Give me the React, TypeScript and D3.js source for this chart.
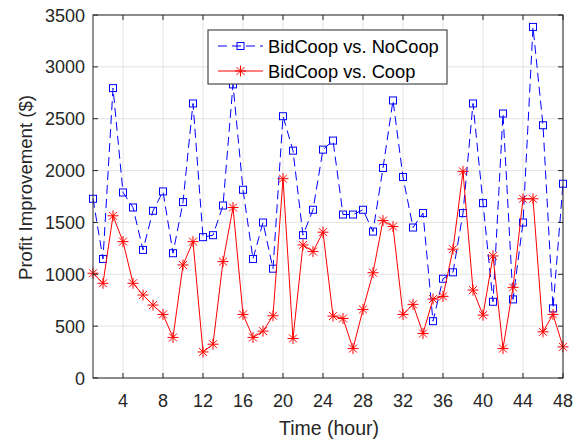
import React from "react";
import * as d3 from "d3";

// hourly profit improvement ($)
const hours = d3.range(1, 49);
const vsNoCoop = [
  1728, 1148, 2795, 1789, 1644, 1235, 1612, 1799, 1203, 1696, 2647, 1358,
  1377, 1663, 2831, 1815, 1148, 1499, 1054, 2524, 2192, 1377, 1622, 2202,
  2289, 1576, 1576, 1622, 1412, 2025, 2676, 1938, 1451, 1590, 548, 957,
  1019, 1590, 2647, 1686, 735, 2550, 758, 1499, 3385, 2437, 671, 1873,
];
const vsCoop = [
  1010, 913, 1564, 1315, 913, 800, 703, 613, 391, 1090, 1315, 251,
  326, 1122, 1644, 613, 391, 452, 600, 1922, 381, 1283, 1219, 1406,
  597, 574, 284, 661, 1015, 1518, 1460, 613, 710, 429, 761, 787,
  1242, 1992, 848, 606, 1177, 284, 874, 1728, 1728, 445, 613, 300,
];
const xTicks = d3.range(4, 49, 4);
const yTicks = d3.range(0, 3501, 500);
const seriesNames = ["BidCoop vs. NoCoop", "BidCoop vs. Coop"];

const W = 573;
const H = 439;
const margin = { top: 15, right: 10, bottom: 61, left: 93 };
const font = "'Liberation Sans', Arial, Helvetica, sans-serif";
const axisColor = "#262626";

const Star = ({ x, y }: { x: number; y: number }) => {
  const r = 5.5;
  const d = r * 0.72;
  return (
    <path
      d={`M${x - r},${y}H${x + r}M${x},${y - r}V${y + r}M${x - d},${y - d}L${x + d},${y + d}M${x - d},${y + d}L${x + d},${y - d}`}
      stroke="#ff0000"
      strokeWidth={1}
      fill="none"
    />
  );
};

const Square = ({ x, y }: { x: number; y: number }) => (
  <rect x={x - 3.5} y={y - 3.5} width={7} height={7} fill="none" stroke="#0000ff" strokeWidth={1} />
);

export default function App() {
  const iw = W - margin.left - margin.right;
  const ih = H - margin.top - margin.bottom;

  const x = d3.scaleLinear().domain([1, 48]).range([0, iw]);
  const y = d3.scaleLinear().domain([0, 3500]).range([ih, 0]);

  const line = d3
    .line<number>()
    .x((_, i) => x(hours[i]))
    .y((d) => y(d));

  const tick = 5;

  return (
    <div style={{ position: "absolute", left: 0, top: 0 }}>
      <svg width={W} height={H} style={{ display: "block", background: "#fff" }}>
        <g transform={`translate(${margin.left},${margin.top})`}>
          {/* grid */}
          {xTicks.map((t) => (
            <line key={"gx" + t} x1={x(t)} x2={x(t)} y1={0} y2={ih} stroke="#e3e3e3" />
          ))}
          {yTicks.map((t) => (
            <line key={"gy" + t} x1={0} x2={iw} y1={y(t)} y2={y(t)} stroke="#e3e3e3" />
          ))}

          {/* series */}
          <path
            d={line(vsNoCoop)!}
            fill="none"
            stroke="#0000ff"
            strokeWidth={1}
            strokeDasharray="9,5"
          />
          {vsNoCoop.map((v, i) => (
            <Square key={"b" + i} x={x(hours[i])} y={y(v)} />
          ))}
          <path d={line(vsCoop)!} fill="none" stroke="#ff0000" strokeWidth={1} />
          {vsCoop.map((v, i) => (
            <Star key={"r" + i} x={x(hours[i])} y={y(v)} />
          ))}

          {/* box and ticks */}
          <rect x={0} y={0} width={iw} height={ih} fill="none" stroke={axisColor} strokeWidth={1} />
          {xTicks.map((t) => (
            <g key={"tx" + t}>
              <line x1={x(t)} x2={x(t)} y1={ih} y2={ih - tick} stroke={axisColor} />
              <line x1={x(t)} x2={x(t)} y1={0} y2={tick} stroke={axisColor} />
              <text
                x={x(t)}
                y={ih + 29}
                textAnchor="middle"
                fontFamily={font}
                fontSize={18}
                fill={axisColor}
              >
                {t}
              </text>
            </g>
          ))}
          {yTicks.map((t) => (
            <g key={"ty" + t}>
              <line x1={0} x2={tick} y1={y(t)} y2={y(t)} stroke={axisColor} />
              <line x1={iw} x2={iw - tick} y1={y(t)} y2={y(t)} stroke={axisColor} />
              <text
                x={-8}
                y={y(t) + 6.5}
                textAnchor="end"
                fontFamily={font}
                fontSize={18}
                fill={axisColor}
              >
                {t}
              </text>
            </g>
          ))}

          {/* axis labels */}
          <text
            x={iw / 2 + 1}
            y={ih + 57}
            textAnchor="middle"
            fontFamily={font}
            fontSize={19.5}
            fill={axisColor}
          >
            Time (hour)
          </text>
          <text
            transform={`translate(${32 - margin.left},${ih / 2 - 9}) rotate(-90)`}
            textAnchor="middle"
            fontFamily={font}
            fontSize={18.6}
            fill={axisColor}
          >
            Profit Improvement ($)
          </text>
        </g>

        {/* legend */}
        <g transform="translate(208,30)">
          <rect x={0} y={0} width={239} height={54} fill="#fff" stroke={axisColor} strokeWidth={1} />
          <line x1={10} x2={55} y1={16} y2={16} stroke="#0000ff" strokeDasharray="9,5" />
          <Square x={32.5} y={16} />
          <text x={60} y={22.5} fontFamily={font} fontSize={18.3} fill="#000">
            {seriesNames[0]}
          </text>
          <line x1={10} x2={55} y1={41} y2={41} stroke="#ff0000" />
          <Star x={32.5} y={41} />
          <text x={60} y={47.5} fontFamily={font} fontSize={18.3} fill="#000">
            {seriesNames[1]}
          </text>
        </g>
      </svg>
    </div>
  );
}
